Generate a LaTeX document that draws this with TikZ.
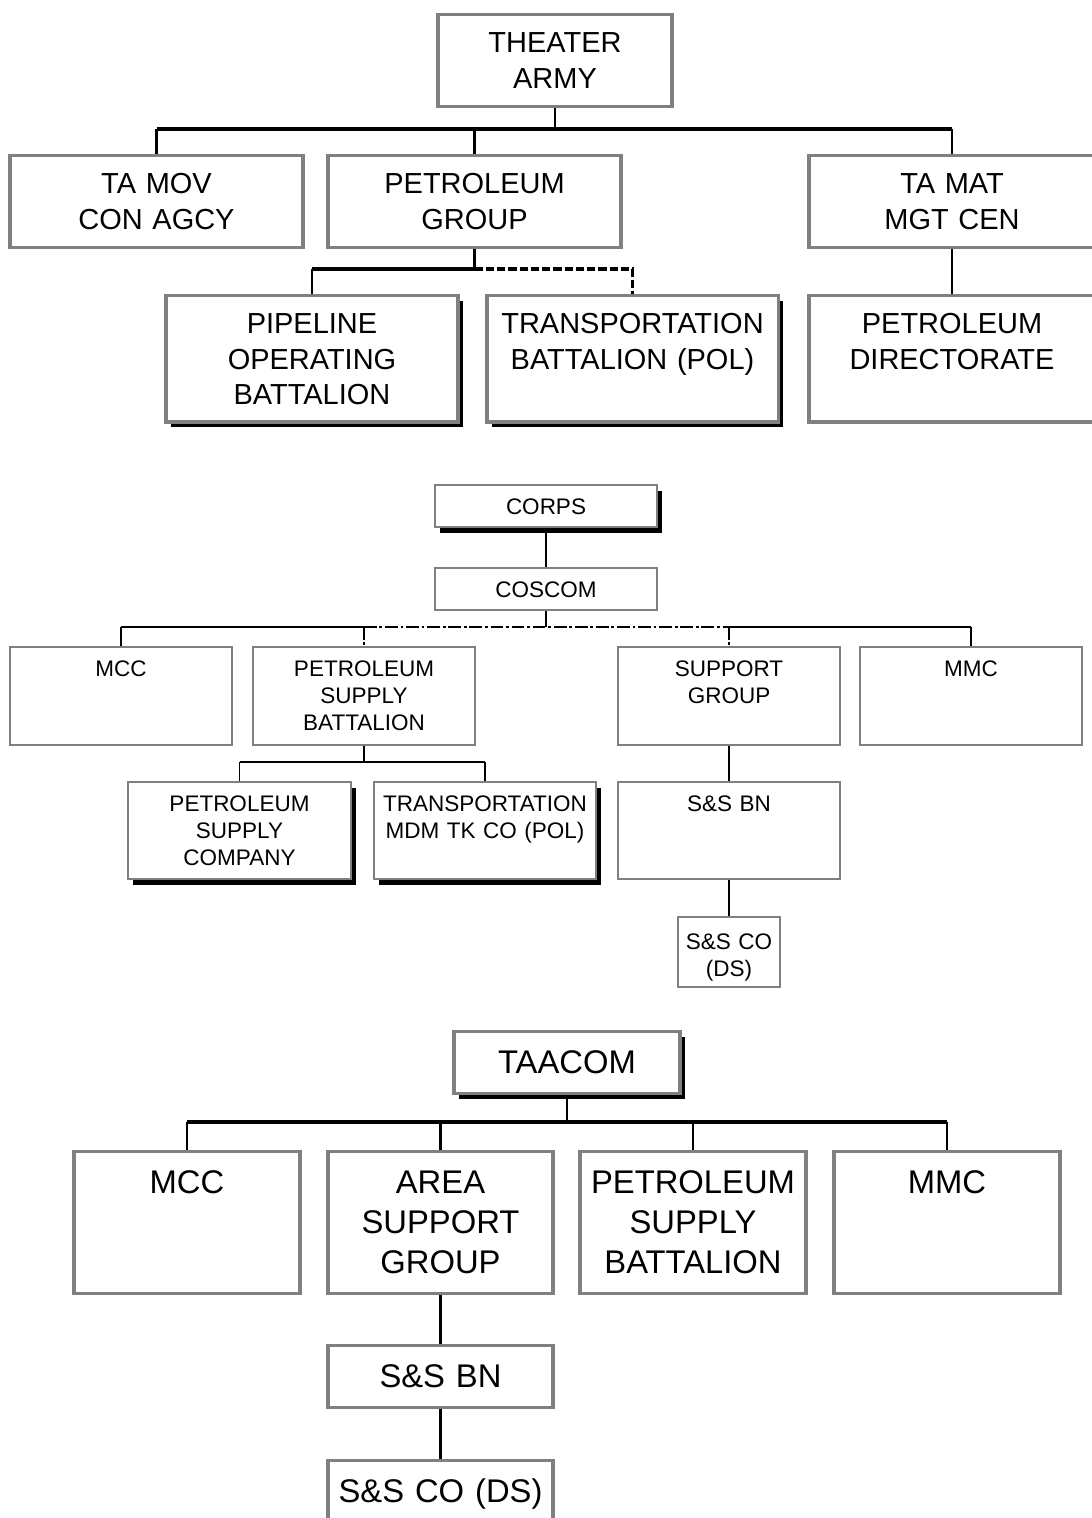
\documentclass[tikz,border=0pt]{standalone}
\usepackage{fontspec}
\setmainfont{Liberation Sans}
\usepackage{tikz}
\usetikzlibrary{positioning,shadows}

\begin{document}
\begin{tikzpicture}[x=0.025cm,y=-0.025cm,align=center]
            \tikzstyle{box}=[draw=gray,fill=white,anchor=north,inner xsep=0pt,inner ysep=0pt]
            \tikzstyle{tabox}=[box,line width=2.2pt,font=\fontsize{20.6}{25.2}\selectfont,text height=0.96cm]
            \tikzstyle{cobox}=[box,line width=1.7pt,font=\fontsize{16}{19.2}\selectfont,text height=0.725cm]
            \tikzstyle{tcbox}=[box,line width=2.2pt,font=\fontsize{23.3}{28.4}\selectfont,text height=1.05cm]
            \tikzstyle{shade}=[drop shadow={shadow xshift=3.8pt,shadow yshift=-3.8pt,fill=black,opacity=1}]
            \tikzstyle{link}=[line width=1.8pt]
            \tikzstyle{bus}=[line width=2.4pt]
            \tikzstyle{thin link}=[line width=1.4pt]
            \tikzstyle{thin bus}=[line width=1.8pt]
            \tikzstyle{dash link}=[dash pattern=on 6pt off 2pt]
            \tikzstyle{dashdot link}=[dash pattern=on 9pt off 2pt on 2pt off 2pt]
            \useasboundingbox (0,0) rectangle (1091,1518);

            % theater army
            \node[tabox,text width=5.85cm,text depth=1.34cm] (theater) at (555,13) {THEATER\\ARMY};
            \node[tabox,text width=7.325cm,text depth=1.34cm] (tamov) at (156.5,154) {TA MOV\\CON AGCY};
            \node[tabox,text width=7.325cm,text depth=1.34cm] (petgrp) at (474.5,154) {PETROLEUM\\GROUP};
            \node[tabox,text width=7.15cm,text depth=1.34cm] (tamat) at (952,154) {TA MAT\\MGT CEN};
            \node[tabox,shade,text width=7.3cm,text depth=2.2cm] (pipeline) at (312,294) {PIPELINE\\OPERATING\\BATTALION};
            \node[tabox,shade,text width=7.275cm,text depth=2.2cm] (transbn) at (632.5,294) {TRANSPORTATION\\BATTALION (POL)};
            \node[tabox,text width=7.15cm,text depth=2.2cm] (petdir) at (952,294) {PETROLEUM\\DIRECTORATE};

            \coordinate (tabus) at (555,129);
            \coordinate (pgbus) at (474.5,269);
            \draw[link] (theater) -- (tabus);
            \draw[bus] (tabus -| tamov) -- (tabus -| tamat);
            \foreach \n in {tamov,petgrp,tamat}
                \draw[link] (tabus -| \n) -- (\n);
            \draw[link] (petgrp) -- (pgbus);
            \draw[bus] (pgbus -| pipeline) -- (pgbus);
            \draw[link] (pgbus -| pipeline) -- (pipeline);
            \draw[bus,dash link] (pgbus) -- (pgbus -| transbn) -- (transbn);
            \draw[link] (tamat) -- (petdir);

            % corps
            \node[cobox,shade,text width=5.55cm,text depth=0.325cm] (corps) at (546,484) {CORPS};
            \node[cobox,text width=5.55cm,text depth=0.325cm] (coscom) at (546,567) {COSCOM};
            \node[cobox,text width=5.55cm,text depth=1.725cm] (mcc) at (121,646) {MCC};
            \node[cobox,text width=5.55cm,text depth=1.725cm] (psb) at (364,646) {PETROLEUM\\SUPPLY\\BATTALION};
            \node[cobox,text width=5.55cm,text depth=1.725cm] (supgrp) at (729,646) {SUPPORT\\GROUP};
            \node[cobox,text width=5.55cm,text depth=1.725cm] (mmc) at (971,646) {MMC};
            \node[cobox,shade,text width=5.575cm,text depth=1.7cm] (psc) at (239.5,781) {PETROLEUM\\SUPPLY\\COMPANY};
            \node[cobox,shade,text width=5.55cm,text depth=1.7cm] (mdmtk) at (485,781) {TRANSPORTATION\\MDM TK CO (POL)};
            \node[cobox,text width=5.55cm,text depth=1.7cm] (ssbn) at (729,781) {S\&S BN};
            \node[cobox,text width=2.55cm,text height=0.8cm,text depth=0.95cm] (ssco) at (729,916) {S\&S CO\\(DS)};

            \coordinate (cobus) at (546,627);
            \coordinate (psbus) at (364,762);
            \draw[thin link] (corps) -- (coscom);
            \draw[thin link] (coscom) -- (cobus);
            \draw[thin bus] (cobus -| mcc) -- (cobus -| psb);
            \draw[thin bus,dashdot link] (cobus -| psb) -- (cobus -| supgrp);
            \draw[thin bus] (cobus -| supgrp) -- (cobus -| mmc);
            \draw[thin link] (cobus -| mcc) -- (mcc);
            \draw[thin link,dashdot link] (cobus -| psb) -- (psb);
            \draw[thin link,dashdot link] (cobus -| supgrp) -- (supgrp);
            \draw[thin link] (cobus -| mmc) -- (mmc);
            \draw[thin link] (psb) -- (psbus);
            \draw[thin bus] (psbus -| psc) -- (psbus -| mdmtk);
            \draw[thin link] (psbus -| psc) -- (psc);
            \draw[thin link] (psbus -| mdmtk) -- (mdmtk);
            \draw[thin link] (supgrp) -- (ssbn);
            \draw[thin link] (ssbn) -- (ssco);

            % taacom
            \node[tcbox,shade,text width=5.65cm,text depth=0.5cm] (taacom) at (567,1030) {TAACOM};
            \node[tcbox,text width=5.65cm,text depth=2.5cm] (mcc2) at (187,1150) {MCC};
            \node[tcbox,text width=5.625cm,text depth=2.5cm] (asg) at (440.5,1150) {AREA\\SUPPORT\\GROUP};
            \node[tcbox,text width=5.65cm,text depth=2.5cm] (psb2) at (693,1150) {PETROLEUM\\SUPPLY\\BATTALION};
            \node[tcbox,text width=5.65cm,text depth=2.5cm] (mmc2) at (947,1150) {MMC};
            \node[tcbox,text width=5.625cm,text depth=0.5cm] (ssbn2) at (440.5,1344) {S\&S BN};
            \node[tcbox,text width=5.625cm,text depth=0.95cm] (ssco2) at (440.5,1459) {S\&S CO (DS)};

            \coordinate (tcbus) at (567,1122);
            \draw[link] (taacom) -- (tcbus);
            \draw[bus] (tcbus -| mcc2) -- (tcbus -| mmc2);
            \foreach \n in {mcc2,asg,psb2,mmc2}
                \draw[link] (tcbus -| \n) -- (\n);
            \draw[link] (asg) -- (ssbn2);
            \draw[link] (ssbn2) -- (ssco2);
        \end{tikzpicture}
\end{document}
